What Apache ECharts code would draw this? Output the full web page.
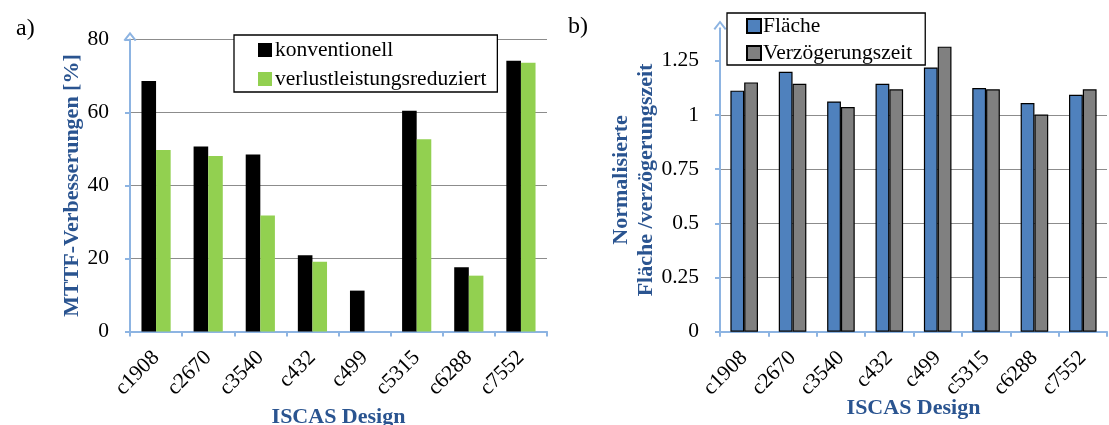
<!DOCTYPE html>
<html>
<head>
<meta charset="utf-8">
<script src="https://cdn.jsdelivr.net/npm/echarts@6/dist/echarts.min.js"></script>
<style>
html,body{margin:0;padding:0;background:#fff;}
#chart{width:1109px;height:425px;}
</style>
</head>
<body>
<div id="chart"></div>
<script>
const categories = ['c1908','c2670','c3540','c432','c499','c5315','c6288','c7552'];
const konventionell = [68.6, 50.7, 48.5, 20.9, 11.2, 60.5, 17.6, 74.2];
const verlustleistungsreduziert = [49.7, 48.1, 31.8, 19.1, 0, 52.7, 15.3, 73.6];
const flaeche = [1.112, 1.199, 1.062, 1.144, 1.219, 1.124, 1.055, 1.093];
const verzoegerungszeit = [1.150, 1.144, 1.036, 1.118, 1.315, 1.118, 1.002, 1.118];
const leftTicks = [0, 20, 40, 60, 80];
const rightTicks = [0, 0.25, 0.5, 0.75, 1, 1.25];

const FONT = 'Liberation Serif';
const FS = 21.5;
const AXIS_COLOR = '#8DB4E2';
const TITLE_COLOR = '#2A5490';
const GRID_COLOR = '#8C8C8C';
const ARROW = 'path://M6.5,0 L13,8.3 L11.4,9.6 L6.5,3.2 L1.6,9.6 L0,8.3 Z';

const chart = echarts.init(document.getElementById('chart'), null, {renderer: 'canvas'});

function xAxisCfg(gridIndex, nameGap) {
  return {
    type: 'category', gridIndex: gridIndex, data: categories,
    name: 'ISCAS Design', nameLocation: 'middle', nameGap: nameGap, nameMoveOverlap: false,
    nameTextStyle: {fontFamily: FONT, fontSize: 22, fontWeight: 'bold', color: TITLE_COLOR},
    axisLine: {show: true, lineStyle: {color: AXIS_COLOR, width: 2}},
    axisTick: {show: true, interval: 0, length: 5, lineStyle: {color: AXIS_COLOR, width: 2}},
    axisLabel: {interval: 0, rotate: 45, margin: 23, fontFamily: FONT, fontSize: FS, color: '#000'},
    splitLine: {show: false}
  };
}

function yAxisCfg(gridIndex, max, interval, ticks, name, nameGap) {
  return {
    type: 'value', gridIndex: gridIndex, min: 0, max: max, interval: interval,
    name: name, nameLocation: 'middle', nameGap: nameGap, nameRotate: 90, nameMoveOverlap: false,
    nameTextStyle: {fontFamily: FONT, fontSize: 22, fontWeight: 'bold', color: TITLE_COLOR, lineHeight: 25, align: 'center'},
    axisLine: {show: true, symbol: ['none', ARROW], symbolSize: [13, 10], symbolOffset: [0, 3],
      lineStyle: {color: AXIS_COLOR, width: 2}},
    axisTick: {show: true, length: 5, customValues: ticks, lineStyle: {color: AXIS_COLOR, width: 2}},
    axisLabel: {margin: 21, customValues: ticks, fontFamily: FONT, fontSize: FS, color: '#000'},
    splitLine: {show: true, showMaxLine: max === ticks[ticks.length - 1], lineStyle: {color: GRID_COLOR, width: 1}}
  };
}

const option = {
  backgroundColor: '#fff',
  animation: false,
  title: [
    {text: 'a)', left: 11, top: 12, textStyle: {fontFamily: FONT, fontSize: 24, fontWeight: 'normal', color: '#000'}},
    {text: 'b)', left: 563, top: 10, textStyle: {fontFamily: FONT, fontSize: 24, fontWeight: 'normal', color: '#000'}}
  ],
  grid: [
    {left: 130, right: 562, top: 39.5, bottom: 93.5, containLabel: false, outerBoundsMode: 'none'},
    {left: 720, right: 2, top: 28.2, bottom: 93.3, containLabel: false, outerBoundsMode: 'none'}
  ],
  legend: [
    {
      data: ['konventionell', 'verlustleistungsreduziert'],
      orient: 'vertical', left: 234, top: 35,
      backgroundColor: '#fff', borderColor: '#000', borderWidth: 1.3,
      padding: [4, 11, 2, 24], itemGap: 7, itemWidth: 14, itemHeight: 14,
      icon: 'rect',
      textStyle: {fontFamily: FONT, fontSize: FS, color: '#000', padding: [0, 0, 0, -2]}
    },
    {
      data: ['Fläche', 'Verzögerungszeit'],
      orient: 'vertical', left: 727, top: 13,
      backgroundColor: '#fff', borderColor: '#000', borderWidth: 1.3,
      padding: [2, 13, 1, 19], itemGap: 5, itemWidth: 14, itemHeight: 14,
      icon: 'rect',
      textStyle: {fontFamily: FONT, fontSize: FS, color: '#000', padding: [0, 0, 0, -3]}
    }
  ],
  xAxis: [xAxisCfg(0, 75), xAxisCfg(1, 66)],
  yAxis: [
    yAxisCfg(0, 80, 20, leftTicks, 'MTTF-Verbesserungen [%]', 45),
    yAxisCfg(1, 1.4, 0.25, rightTicks, 'Normalisierte\nFläche /verzögerungszeit', 61)
  ],
  series: [
    {name: 'konventionell', type: 'bar', xAxisIndex: 0, yAxisIndex: 0, data: konventionell,
      barGap: '0%', barCategoryGap: '44%', itemStyle: {color: '#000000'}},
    {name: 'verlustleistungsreduziert', type: 'bar', xAxisIndex: 0, yAxisIndex: 0, data: verlustleistungsreduziert,
      barGap: '0%', barCategoryGap: '44%', itemStyle: {color: '#92D050'}},
    {name: 'Fläche', type: 'bar', xAxisIndex: 1, yAxisIndex: 1, data: flaeche,
      barGap: '0%', barCategoryGap: '43%', itemStyle: {color: '#4F81BD', borderColor: '#000', borderWidth: 1.2}},
    {name: 'Verzögerungszeit', type: 'bar', xAxisIndex: 1, yAxisIndex: 1, data: verzoegerungszeit,
      barGap: '0%', barCategoryGap: '43%', itemStyle: {color: '#808080', borderColor: '#000', borderWidth: 1.2}}
  ]
};
chart.setOption(option);
</script>
</body>
</html>
